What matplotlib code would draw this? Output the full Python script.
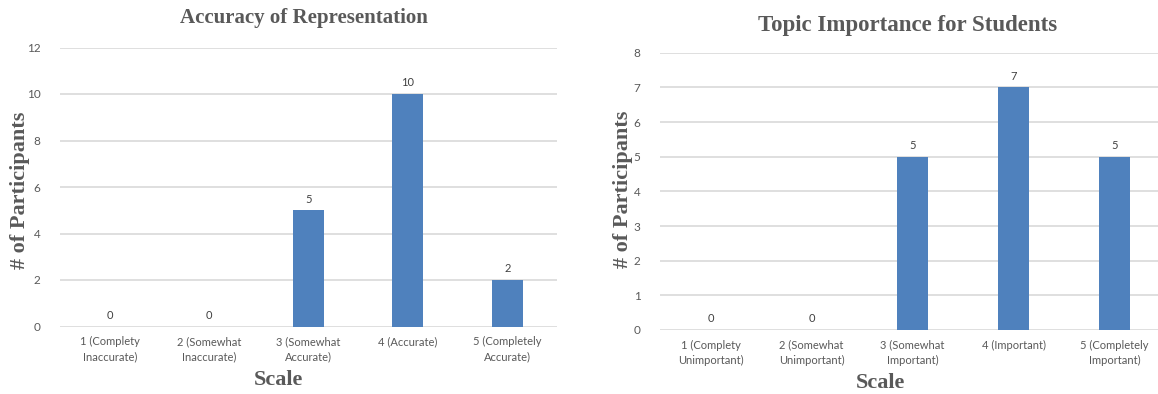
import matplotlib.pyplot as plt
import matplotlib as mpl

params = {
    'font.family': ['Lato', 'DejaVu Sans'],
    'font.size': 8,
    'xtick.labelsize': 8,
    'ytick.labelsize': 8.5,
    'text.color': '#595959',
    'xtick.color': '#595959',
    'ytick.color': '#595959',
    'axes.labelcolor': '#595959',
}
mpl.rcParams.update(params)

# data
acc_labels = ['1 (Complety\nInaccurate)', '2 (Somewhat\nInaccurate)', '3 (Somewhat\nAccurate)',
              '4 (Accurate)', '5 (Completely\nAccurate)']
acc_counts = [0, 0, 5, 10, 2]
acc_ticks = [0, 2, 4, 6, 8, 10, 12]

imp_labels = ['1 (Complety\nUnimportant)', '2 (Somewhat\nUnimportant)', '3 (Somewhat\nImportant)',
              '4 (Important)', '5 (Completely\nImportant)']
imp_counts = [0, 0, 5, 7, 5]
imp_ticks = [0, 1, 2, 3, 4, 5, 6, 7, 8]

bar_color = '#4F81BD'
grid_color = '#D9D9D9'
serif = 'Liberation Serif'

fig = plt.figure(figsize=(11.58, 3.94), dpi=100)


def bar_panel(rect, labels, counts, ticks, title, title_size, title_y, ylab_xy, xlab_xy):
    ax = fig.add_axes(rect)
    x = range(len(counts))
    ax.bar(x, counts, width=0.31, color=bar_color, zorder=3)
    for xi, v in zip(x, counts):
        ax.annotate(str(v), (xi, v), xytext=(0, 4), textcoords='offset points',
                    ha='center', va='bottom', fontsize=8, color='#404040')
    ax.set_xlim(-0.5, len(counts) - 0.5)
    ax.set_ylim(ticks[0], ticks[-1])
    ax.set_yticks(ticks)
    ax.set_xticks(list(x))
    ax.set_xticklabels(labels, linespacing=1.5)
    ax.yaxis.grid(True, color=grid_color, linewidth=1.2, zorder=0)
    ax.set_axisbelow(True)
    for s in ax.spines.values():
        s.set_visible(False)
    ax.tick_params(length=0)
    ax.tick_params(axis='x', pad=7)
    ax.tick_params(axis='y', pad=14)
    ax.set_ylabel('# of Participants', family=serif, fontweight='bold', fontsize=16, va='center')
    ax.set_xlabel('Scale', family=serif, fontweight='bold', fontsize=16, va='center')
    ax.yaxis.set_label_coords(*ylab_xy)
    ax.xaxis.set_label_coords(*xlab_xy)
    fig.text(rect[0] + rect[2] / 2 - 0.004, title_y, title, family=serif, fontweight='bold',
             fontsize=title_size, ha='center', va='center')
    return ax


bar_panel([60 / 1158, 1 - 326.5 / 394, 497 / 1158, 279 / 394], acc_labels, acc_counts, acc_ticks,
          'Accuracy of Representation', 15, 1 - 18 / 394, (-0.08, 0.489), (0.439, -0.192))
bar_panel([660 / 1158, 1 - 330 / 394, 505 / 1158, 277.3 / 394], imp_labels, imp_counts, imp_ticks,
          'Topic Importance for Students', 16.5, 1 - 25 / 394, (-0.073, 0.508), (0.436, -0.191))

fig.savefig('out.png', dpi=100)
